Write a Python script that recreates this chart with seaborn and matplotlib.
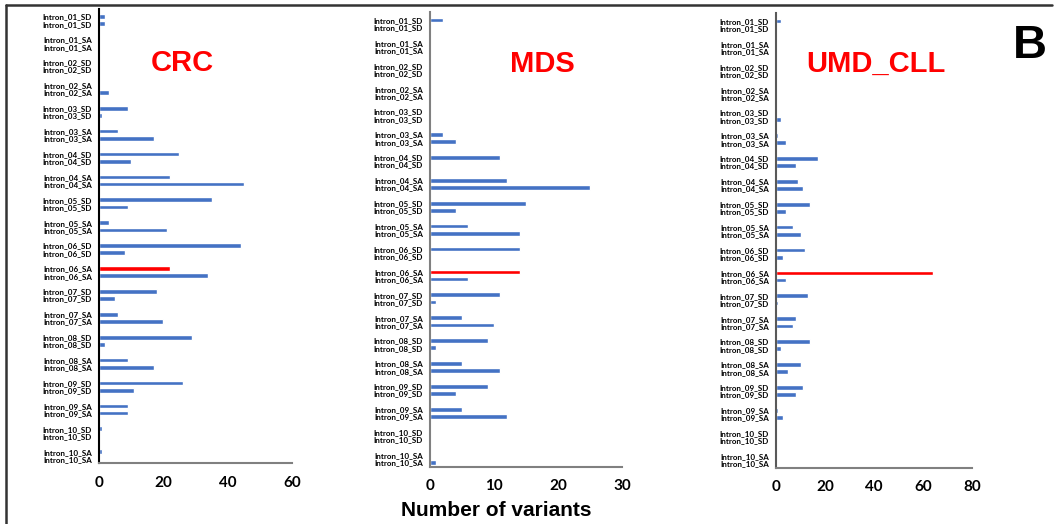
import pandas as pd
import matplotlib
matplotlib.use("Agg")
import matplotlib.pyplot as plt
from matplotlib.lines import Line2D
import seaborn as sns

sns.set_style("white")
plt.rcParams["font.family"] = ["Lato", "DejaVu Sans"]
plt.rcParams["text.color"] = "black"
plt.rcParams["xtick.color"] = "black"
plt.rcParams["ytick.color"] = "black"

# intron sites, each one shows two bars (upper / lower)
groups = ["Intron_01_SD", "Intron_01_SA", "Intron_02_SD", "Intron_02_SA",
          "Intron_03_SD", "Intron_03_SA", "Intron_04_SD", "Intron_04_SA",
          "Intron_05_SD", "Intron_05_SA", "Intron_06_SD", "Intron_06_SA",
          "Intron_07_SD", "Intron_07_SA", "Intron_08_SD", "Intron_08_SA",
          "Intron_09_SD", "Intron_09_SA", "Intron_10_SD", "Intron_10_SA"]

crc_upper = [2, 0, 0, 0, 9, 6, 25, 22, 35, 3, 44, 22, 18, 6, 29, 9, 26, 9, 1, 1]
crc_lower = [2, 0, 0, 3, 1, 17, 10, 45, 9, 21, 8, 34, 5, 20, 2, 17, 11, 9, 0, 0]

mds_upper = [2, 0, 0, 0, 0, 2, 11, 12, 15, 6, 14, 14, 11, 5, 9, 5, 9, 5, 0, 0]
mds_lower = [0, 0, 0, 0, 0, 4, 0, 25, 4, 14, 0, 6, 1, 10, 1, 11, 4, 12, 0, 1]

cll_upper = [2, 0, 0, 0, 0, 1, 17, 9, 14, 7, 12, 64, 13, 8, 14, 10, 11, 1, 0, 0]
cll_lower = [0, 0, 0, 0, 2, 4, 8, 11, 4, 10, 3, 4, 1, 7, 2, 5, 8, 3, 0, 0]

panel_names = ["CRC", "MDS", "UMD_CLL"]
x_max = [60, 30, 80]
x_step = [20, 10, 20]
highlight = "Intron_06_SA"

BLUE = "#4472C4"
RED = "#FF0000"

fig = plt.figure(figsize=(10.57, 5.24), dpi=100)
W, H = 1057, 524

# axes boxes in pixels: left, spine y, width
boxes = [(99, 463.3, 193), (430, 466.7, 192), (776, 467.7, 196)]
spine_left = ["#000000", "#808080", "#595959"]
title_pos = [(182, 63), (542, 64), (876, 64)]
series = [(crc_upper, crc_lower), (mds_upper, mds_lower), (cll_upper, cll_lower)]

row_px = 22.9
ylo, yhi = 19.35, -0.5
off = 0.1575

for i, name in enumerate(panel_names):
    left, bottom, width = boxes[i]
    height = (ylo - yhi) * row_px
    ax = fig.add_axes([left / W, 1 - bottom / H, width / W, height / H])

    up, lo = series[i]
    df = pd.DataFrame({
        "group": groups * 2,
        "row": ["upper"] * len(groups) + ["lower"] * len(groups),
        "value": up + lo,
    })
    sns.barplot(data=df, x="value", y="group", hue="row", orient="h",
                width=0.63, gap=0.35, palette=[BLUE, BLUE], errorbar=None,
                legend=False, saturation=1, ax=ax)
    ax.containers[0][groups.index(highlight)].set_facecolor(RED)

    pos, labs = [], []
    for k, g in enumerate(groups):
        pos += [k - off, k + off]
        labs += [g, g]
    ax.set_yticks(pos)
    ax.set_yticklabels(labs, fontsize=5.8, fontweight="bold")
    ax.set_ylim(ylo, yhi)
    ax.set_xlim(0, x_max[i])
    ax.set_xticks(range(0, x_max[i] + 1, x_step[i]))
    ax.tick_params(axis="x", labelsize=11, pad=9, length=0)
    ax.tick_params(axis="y", pad=5, length=0)
    for t in ax.get_xticklabels():
        t.set_fontweight("bold")
    ax.set_xlabel("")
    ax.set_ylabel("")
    for s in ["top", "right"]:
        ax.spines[s].set_visible(False)
    ax.spines["left"].set_color(spine_left[i])
    ax.spines["left"].set_linewidth(1.5)
    ax.spines["bottom"].set_color("#808080")
    ax.spines["bottom"].set_linewidth(1.5)

    tx, ty = title_pos[i]
    fig.text(tx / W, 1 - ty / H, name, color=RED, fontsize=21,
             fontweight="bold", ha="center", va="center",
             family=["Liberation Sans", "DejaVu Sans"])

fig.text(1030 / W, 1 - 46 / H, "B", fontsize=34, fontweight="bold",
         color="black", ha="center", va="center",
         family=["Liberation Sans", "DejaVu Sans"])
fig.text(496 / W, 1 - 511 / H, "Number of variants", fontsize=15,
         fontweight="bold", color="black", ha="center", va="center",
         family=["Liberation Sans", "DejaVu Sans"])

# panel frame (top and left edge)
fig.add_artist(Line2D([6 / W, 1052 / W], [1 - 5 / H, 1 - 5 / H],
                      color="#333333", lw=1.8, transform=fig.transFigure))
fig.add_artist(Line2D([6 / W, 6 / W], [1 - 5 / H, 0],
                      color="#333333", lw=1.8, transform=fig.transFigure))

fig.savefig("out.png", dpi=100)
